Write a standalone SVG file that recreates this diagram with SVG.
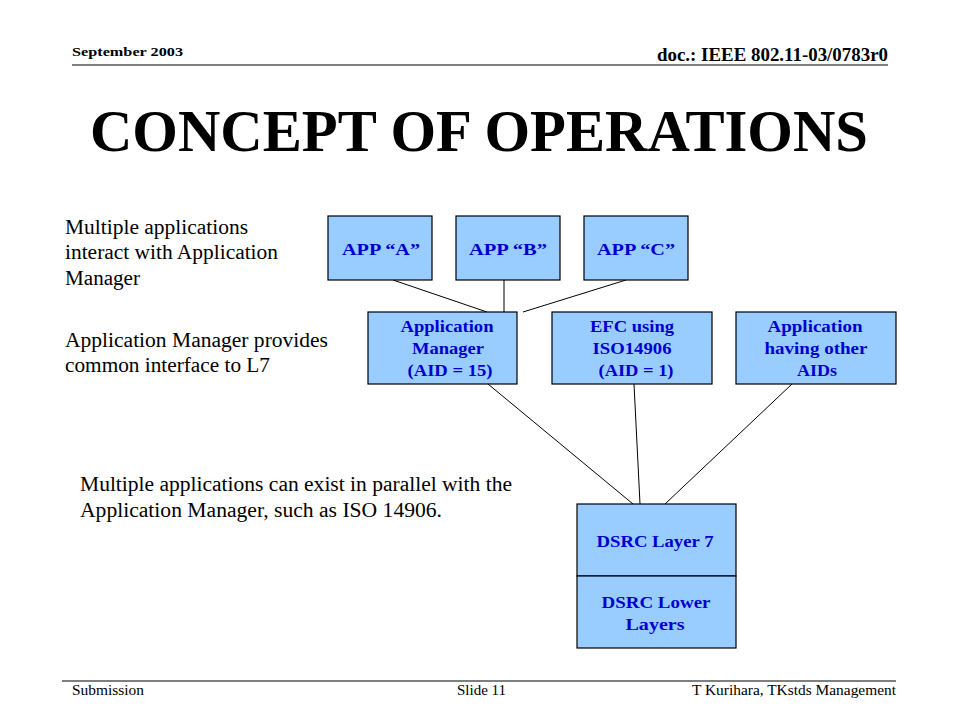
<svg xmlns="http://www.w3.org/2000/svg" width="960" height="720" viewBox="0 0 960 720">
<style>
.box{fill:#99CCFF;stroke:#000;stroke-width:1.2}
.bt{font-family:"Liberation Serif",serif;font-weight:bold;font-size:16px;fill:#0000CC;text-anchor:middle}
.body{font-family:"Liberation Serif",serif;font-size:20px;fill:#000}
.hdr{font-family:"Liberation Serif",serif;font-weight:bold;fill:#000}
.ftr{font-family:"Liberation Serif",serif;font-size:15px;fill:#000}
.conn line{stroke:#000;stroke-width:1}
</style>
<rect width="960" height="720" fill="#fff"/>
<g id="header">
<text class="hdr" x="72" y="56" font-size="13.5" textLength="111" lengthAdjust="spacingAndGlyphs">September 2003</text>
<text class="hdr" x="657" y="61" font-size="18" textLength="231" lengthAdjust="spacingAndGlyphs">doc.: IEEE 802.11-03/0783r0</text>
<line x1="72" y1="65" x2="888" y2="65" stroke="#000" stroke-width="1.2"/>
</g>
<text x="90" y="151" font-family="Liberation Serif,serif" font-weight="bold" font-size="60" fill="#000" textLength="778" lengthAdjust="spacingAndGlyphs">CONCEPT OF OPERATIONS</text>
<g id="notes">
<text class="body" x="65" y="234" textLength="183" lengthAdjust="spacingAndGlyphs">Multiple applications</text>
<text class="body" x="65" y="259" textLength="213" lengthAdjust="spacingAndGlyphs">interact with Application</text>
<text class="body" x="65" y="285" textLength="75" lengthAdjust="spacingAndGlyphs">Manager</text>
<text class="body" x="65" y="347" textLength="263" lengthAdjust="spacingAndGlyphs">Application Manager provides</text>
<text class="body" x="65" y="372" textLength="205" lengthAdjust="spacingAndGlyphs">common interface to L7</text>
<text class="body" x="80" y="491" textLength="432" lengthAdjust="spacingAndGlyphs">Multiple applications can exist in parallel with the</text>
<text class="body" x="80" y="517" textLength="362" lengthAdjust="spacingAndGlyphs">Application Manager, such as ISO 14906.</text>
</g>
<g id="connectors" class="conn">
<line x1="393" y1="280" x2="487" y2="312"/>
<line x1="504" y1="280" x2="504" y2="312"/>
<line x1="626" y1="280" x2="523" y2="312"/>
<line x1="488" y1="384" x2="633" y2="504"/>
<line x1="634" y1="384" x2="640" y2="504"/>
<line x1="792" y1="384" x2="665" y2="504"/>
</g>
<g id="appA"><rect class="box" x="328" y="216" width="104" height="64"/><text class="bt" x="381" y="255" textLength="78" lengthAdjust="spacingAndGlyphs">APP  “A”</text></g>
<g id="appB"><rect class="box" x="456" y="216" width="104" height="64"/><text class="bt" x="508" y="255" textLength="78" lengthAdjust="spacingAndGlyphs">APP  “B”</text></g>
<g id="appC"><rect class="box" x="584" y="216" width="104" height="64"/><text class="bt" x="636" y="255" textLength="78" lengthAdjust="spacingAndGlyphs">APP  “C”</text></g>
<g id="appManager"><rect class="box" x="368" y="312" width="149" height="72"/>
<text class="bt" x="447" y="332" textLength="93" lengthAdjust="spacingAndGlyphs">Application</text>
<text class="bt" x="448" y="354" textLength="72" lengthAdjust="spacingAndGlyphs">Manager</text>
<text class="bt" x="450" y="376" textLength="85" lengthAdjust="spacingAndGlyphs">(AID = 15)</text></g>
<g id="efc"><rect class="box" x="552" y="312" width="160" height="72"/>
<text class="bt" x="632" y="332" textLength="84" lengthAdjust="spacingAndGlyphs">EFC using</text>
<text class="bt" x="632" y="354" textLength="79" lengthAdjust="spacingAndGlyphs">ISO14906</text>
<text class="bt" x="636" y="376" textLength="75" lengthAdjust="spacingAndGlyphs">(AID = 1)</text></g>
<g id="otherApp"><rect class="box" x="736" y="312" width="160" height="72"/>
<text class="bt" x="815" y="332" textLength="95" lengthAdjust="spacingAndGlyphs">Application</text>
<text class="bt" x="816" y="354" textLength="103" lengthAdjust="spacingAndGlyphs">having other</text>
<text class="bt" x="817" y="376" textLength="40" lengthAdjust="spacingAndGlyphs">AIDs</text></g>
<g id="dsrcL7"><rect class="box" x="577" y="504" width="159" height="72"/><text class="bt" x="655" y="547" textLength="117" lengthAdjust="spacingAndGlyphs">DSRC Layer 7</text></g>
<g id="dsrcLower"><rect class="box" x="577" y="576" width="159" height="72"/>
<text class="bt" x="656" y="608" textLength="109" lengthAdjust="spacingAndGlyphs">DSRC Lower</text>
<text class="bt" x="655" y="630" textLength="59" lengthAdjust="spacingAndGlyphs">Layers</text></g>
<g id="footer">
<line x1="62" y1="681" x2="896" y2="681" stroke="#000" stroke-width="1.2"/>
<text class="ftr" x="72" y="695" textLength="72" lengthAdjust="spacingAndGlyphs">Submission</text>
<text class="ftr" x="457" y="695" textLength="49" lengthAdjust="spacingAndGlyphs">Slide 11</text>
<text class="ftr" x="692" y="695" textLength="204" lengthAdjust="spacingAndGlyphs">T Kurihara, TKstds Management</text>
</g>
</svg>
